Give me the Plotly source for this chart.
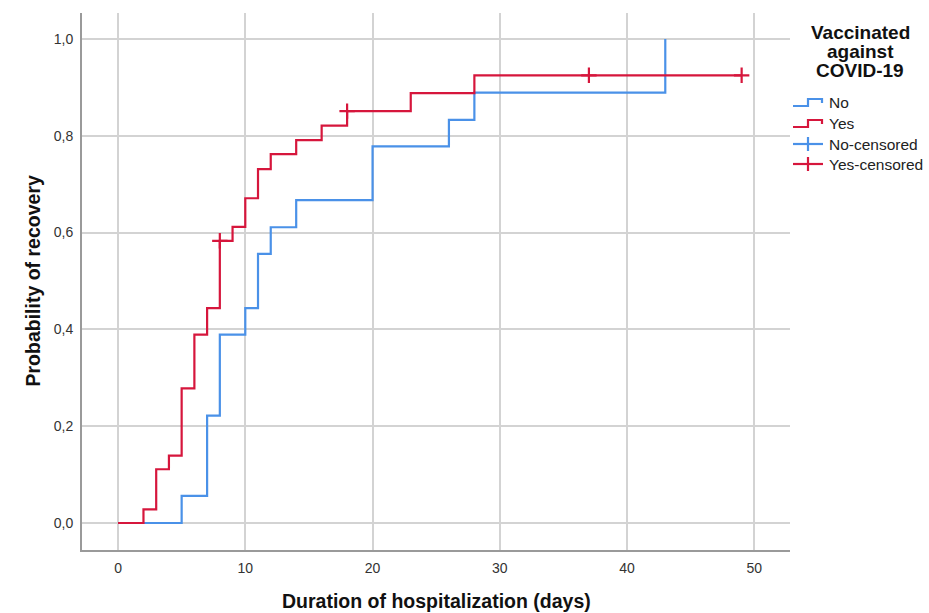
import plotly.graph_objects as go

# ---- data ----
no_time = [0, 5, 7, 8, 10, 11, 12, 14, 20, 26, 28, 43]
no_prob = [0, 0.056, 0.222, 0.389, 0.444, 0.556, 0.611, 0.667, 0.778, 0.833, 0.889, 1.0]

yes_time = [0, 2, 3, 4, 5, 6, 7, 8, 9, 10, 11, 12, 14, 16, 18, 23, 28, 49]
yes_prob = [0, 0.028, 0.111, 0.139, 0.278, 0.389, 0.444, 0.583, 0.612, 0.671,
            0.731, 0.762, 0.791, 0.821, 0.851, 0.888, 0.925, 0.925]

yes_cens_time = [8, 18, 37, 49]
yes_cens_prob = [0.583, 0.851, 0.925, 0.925]

x_ticks = [0, 10, 20, 30, 40, 50]
y_ticks = [0.0, 0.2, 0.4, 0.6, 0.8, 1.0]

legend_title = ["Vaccinated", "against", "COVID-19"]
legend_names = ["No", "Yes", "No-censored", "Yes-censored"]

BLUE = "rgb(74,145,232)"
RED = "rgb(214,22,60)"
FONT = "Liberation Sans, Arial, sans-serif"

# ---- layout geometry (pixels) ----
W, H = 929, 613
L, R, T, B = 82, 139, 13, 63
PW = W - L - R
PH = H - T - B


def px(xp):
    return (xp - L) / PW


def py(yp):
    return (H - B - yp) / PH


fig = go.Figure()
fig.add_trace(go.Scatter(x=no_time, y=no_prob, mode="lines", line_shape="hv",
                         line=dict(color=BLUE, width=2.2), showlegend=False,
                         name="No"))
fig.add_trace(go.Scatter(x=yes_time, y=yes_prob, mode="lines", line_shape="hv",
                         line=dict(color=RED, width=2.2), showlegend=False,
                         name="Yes"))
fig.add_trace(go.Scatter(x=yes_cens_time, y=yes_cens_prob, mode="markers",
                         marker=dict(symbol="cross-thin", size=11,
                                     line=dict(color=RED, width=2.2)),
                         showlegend=False, name="Yes-censored"))

shapes = []
annotations = []

# legend title
for i, line in enumerate(legend_title):
    annotations.append(dict(x=px(860), y=py(32 + 19 * i), xref="paper", yref="paper",
                            text="<b>%s</b>" % line, showarrow=False,
                            xanchor="center", yanchor="middle",
                            font=dict(family=FONT, size=19, color="#111")))

# legend entries
entry_y = [102, 123, 144, 164]
colors = [BLUE, RED, BLUE, RED]
for i, (name, yy, c) in enumerate(zip(legend_names, entry_y, colors)):
    annotations.append(dict(x=px(827), y=py(yy), xref="paper", yref="paper",
                            text=name, showarrow=False, xanchor="left",
                            yanchor="middle",
                            font=dict(family=FONT, size=15.5, color="#222")))
    if i < 2:
        path = "M {x0},{y0} L {x1},{y0} L {x1},{y1} L {x2},{y1} L {x2},{y2}".format(
            x0=px(793), x1=px(808), x2=px(822), y0=py(yy + 4), y1=py(yy - 3),
            y2=py(yy + 1))
        shapes.append(dict(type="path", path=path, xref="paper", yref="paper",
                           line=dict(color=c, width=2.2)))
    else:
        shapes.append(dict(type="line", xref="paper", yref="paper",
                           x0=px(793), x1=px(823), y0=py(yy), y1=py(yy),
                           line=dict(color=c, width=2.2)))
        shapes.append(dict(type="line", xref="paper", yref="paper",
                           x0=px(808), x1=px(808), y0=py(yy - 7), y1=py(yy + 7),
                           line=dict(color=c, width=2.2)))

# axis titles
annotations.append(dict(x=0.5, y=py(601), xref="paper", yref="paper",
                        text="<b>Duration of hospitalization (days)</b>",
                        showarrow=False, xanchor="center", yanchor="middle",
                        font=dict(family=FONT, size=19.5, color="#111")))
annotations.append(dict(x=px(32), y=0.5, xref="paper", yref="paper",
                        text="<b>Probability of recovery</b>", textangle=-90,
                        showarrow=False, xanchor="center", yanchor="middle",
                        font=dict(family=FONT, size=19.5, color="#111")))

fig.update_layout(
    width=W, height=H,
    margin=dict(l=L, r=R, t=T, b=B, pad=0),
    paper_bgcolor="white", plot_bgcolor="white",
    separators=", ",
    showlegend=False,
    shapes=shapes,
    annotations=annotations,
    font=dict(family=FONT, size=14, color="#333"),
)
fig.update_xaxes(range=[-2.83, 52.8], tickvals=x_ticks, ticktext=[str(v) for v in x_ticks],
                 showgrid=True, gridcolor="#d3d3d3", gridwidth=1.5,
                 showline=True, linecolor="#9a9a9a", linewidth=2, zeroline=False,
                 ticks="", ticklabelstandoff=4,
                 tickfont=dict(family=FONT, size=14, color="#333"))
fig.update_yaxes(range=[-0.0558, 1.0537], tickvals=y_ticks, tickformat=".1f",
                 showgrid=True, gridcolor="#d3d3d3", gridwidth=1.5,
                 showline=True, linecolor="#9a9a9a", linewidth=2, zeroline=False,
                 ticks="", ticklabelstandoff=4,
                 tickfont=dict(family=FONT, size=14, color="#333"))

fig.write_html("out.html")
